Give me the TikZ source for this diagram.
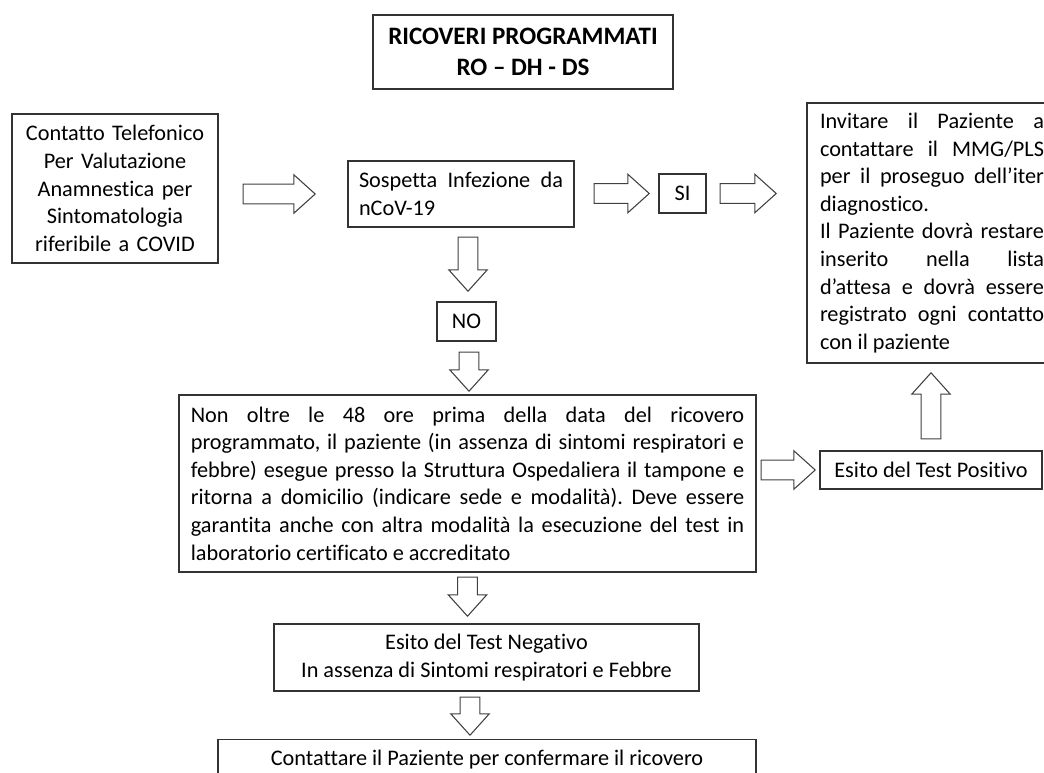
\documentclass[tikz,border=0pt]{standalone}
\usepackage{fontspec}
\setmainfont[Ligatures=NoCommon]{Carlito}
\usetikzlibrary{calc}
\usetikzlibrary{shapes.arrows}
\frenchspacing
\newcommand{\diagfont}{\fontsize{16.7pt}{20.7pt}\selectfont\hyphenpenalty=10000\exhyphenpenalty=10000\tolerance=10000\parindent=0pt}
\tikzset{
	boxstyle/.style={rectangle,draw=black!80,line width=1pt,fill=white,inner sep=0pt,font=\diagfont},
	titlestyle/.style={boxstyle,font=\fontsize{18.8pt}{23.3pt}\selectfont\bfseries,align=center},
	arrowstyle/.style={single arrow,draw=black!75,line width=0.8pt,fill=white,inner sep=7pt,single arrow head extend=7pt,single arrow tip angle=84,anchor=tail}
}

\begin{document}
\begin{tikzpicture}[x=0.75pt,y=-0.75pt]
	\useasboundingbox (0,0) rectangle (1044,773);
	\clip (0,0) rectangle (1044,773);
	% boxes
	\node[titlestyle,minimum width=225pt,minimum height=55.5pt] (title) at (523,52) {RICOVERI PROGRAMMATI\\RO – DH - DS};
	\node[boxstyle,minimum width=154.5pt,minimum height=111.75pt,text width=142.5pt,align=center] (contact) at (115,188.5) {Contatto Telefonico\\Per Valutazione\\Anamnestica per\\Sintomatologia\\riferibile a COVID};
	\node[boxstyle,minimum width=169.5pt,minimum height=49.5pt,text width=153pt,align=justify] (suspect) at (461,194) {Sospetta Infezione da\linebreak nCoV-19};
	\node[boxstyle,minimum width=35.25pt,minimum height=29.25pt] (si) at (682.5,193.5) {SI};
	\node[boxstyle,minimum width=187.5pt,minimum height=195pt,text width=168pt,align=justify] (invite) at (932,233) {Invitare il Paziente a\linebreak contattare il MMG/PLS\linebreak per il proseguo dell’iter\linebreak diagnostico.\par Il Paziente dovrà restare\linebreak inserito nella lista\linebreak d’attesa e dovrà essere\linebreak registrato ogni contatto\linebreak con il paziente};
	\node[boxstyle,minimum width=44.25pt,minimum height=29.25pt] (no) at (466.5,321.5) {NO};
	\node[boxstyle,minimum width=432.75pt,minimum height=132.75pt,text width=415pt,align=justify] (main) at (467.5,483.5) {Non oltre le 48 ore prima della data del ricovero\linebreak programmato, il paziente (in assenza di sintomi respiratori e\linebreak febbre) esegue presso la Struttura Ospedaliera il tampone e\linebreak ritorna a domicilio (indicare sede e modalità). Deve essere\linebreak garantita anche con altra modalità la esecuzione del test in\linebreak laboratorio certificato e accreditato};
	\node[boxstyle,minimum width=166.5pt,minimum height=28.5pt] (positive) at (931,470) {Esito del Test Positivo};
	\node[boxstyle,minimum width=318.75pt,minimum height=50.25pt,align=center] (negative) at (486.5,657.5) {Esito del Test Negativo\\In assenza di Sintomi respiratori e Febbre};
	\node[boxstyle,anchor=north,minimum width=403.5pt,text height=19.5pt,text depth=30pt] (confirm) at (487,739) {Contattare il Paziente per confermare il ricovero};
	% block arrows
	\node[arrowstyle,minimum height=54pt] (a1) at ($(contact.east |- suspect.west)+(24,0)$) {};
	\node[arrowstyle,minimum height=41.25pt] (a2) at ($(suspect.east |- si.west)+(19,0)$) {};
	\node[arrowstyle,minimum height=42pt] (a3) at ($(si.east)+(13,0)$) {};
	\node[arrowstyle,rotate=-90,minimum height=40.5pt] (a4) at ($(suspect.south -| no.north)+(1.5,9)$) {};
	\node[arrowstyle,rotate=-90,minimum height=29.25pt] (a5) at ($(no.south)+(2.5,10)$) {};
	\node[arrowstyle,minimum height=40.5pt] (a6) at ($(main.east |- positive.west)+(4,0)$) {};
	\node[arrowstyle,rotate=90,minimum height=49.5pt] (a7) at ($(positive.north)+(0,-11)$) {};
	\node[arrowstyle,rotate=-90,minimum height=29.25pt] (a8) at ($(main.south)+(0,4)$) {};
	\node[arrowstyle,rotate=-90,minimum height=28.5pt] (a9) at ($(negative.south -| main.south)+(2.5,5)$) {};
\end{tikzpicture}
\end{document}
